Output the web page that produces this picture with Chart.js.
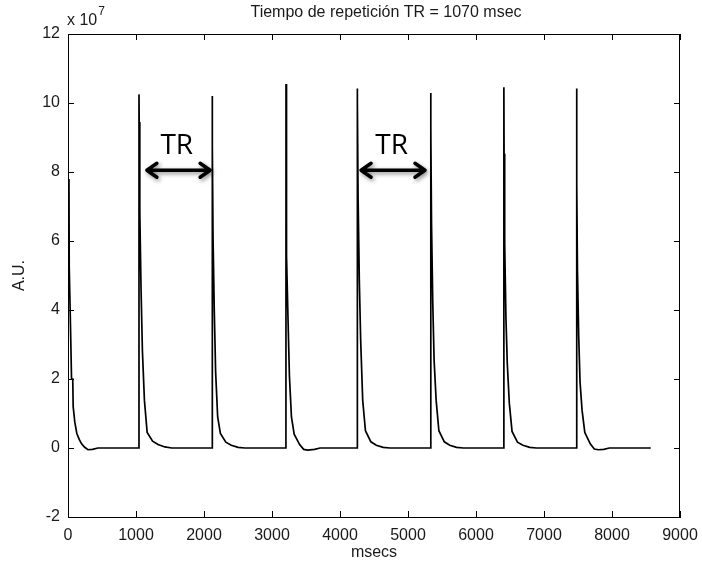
<!DOCTYPE html>
<html>
<head>
<meta charset="utf-8">
<script src="https://cdn.jsdelivr.net/npm/chart.js@4.4.1/dist/chart.umd.min.js"></script>
<style>
  html, body { margin: 0; padding: 0; background: #fff; }
  #wrap { width: 702px; height: 569px; }
</style>
</head>
<body>
<div id="wrap"><canvas id="trChart" width="702" height="569"></canvas></div>
<script>
// signal, time in msecs, amplitude in units of 10^7
var tMs = [
    14, 18, 38, 52, 70, 76, 100, 130, 165, 200, 245, 294, 360, 441,
    1043, 1044, 1047, 1056, 1074, 1094, 1124, 1164, 1244, 1324, 1424, 1524,
    2120, 2121, 2124, 2133, 2151, 2171, 2201, 2241, 2321, 2401, 2501, 2601,
    3205, 3206, 3209, 3218, 3236, 3256, 3286, 3326, 3406, 3466, 3526, 3626, 3706,
    4253, 4254, 4257, 4266, 4284, 4304, 4334, 4374, 4454, 4534, 4634, 4734,
    5333, 5334, 5337, 5346, 5364, 5384, 5414, 5454, 5534, 5614, 5714, 5814,
    6409, 6410, 6413, 6422, 6440, 6460, 6490, 6530, 6610, 6690, 6790, 6890,
    7479, 7480, 7483, 7492, 7510, 7530, 7560, 7600, 7680, 7740, 7800, 7880, 7960, 8570
];
var au = [
    7.8, 5.25, 3.4, 2.0, 2.0, 1.2, 0.75, 0.42, 0.25, 0.12, 0.02, -0.05, -0.04, 0,
    0, 10.25, 9.45, 6.84, 4.62, 2.83, 1.38, 0.45, 0.2, 0.1, 0.03, 0,
    0, 10.2, 8.72, 6.12, 3.99, 2.2, 0.9, 0.42, 0.17, 0.08, 0.02, 0,
    0, 10.55, 8.19, 5.58, 3.7, 2.1, 0.9, 0.4, 0.1, -0.04, -0.06, -0.04, 0,
    0, 10.42, 10.03, 7.28, 4.86, 3.12, 1.38, 0.5, 0.18, 0.08, 0.02, 0,
    0, 10.29, 9.21, 6.51, 4.23, 2.54, 1.38, 0.5, 0.18, 0.08, 0.02, 0,
    0, 10.46, 8.53, 5.92, 3.8, 2.45, 1.3, 0.48, 0.17, 0.08, 0.02, 0,
    0, 10.42, 7.66, 5.15, 3.27, 1.91, 1.09, 0.45, 0.12, -0.03, -0.05, -0.04, 0, 0
];

// axis ticks
var xTicks = [0, 1000, 2000, 3000, 4000, 5000, 6000, 7000, 8000, 9000];
var yTicks = [-2, 0, 2, 4, 6, 8, 10, 12];

// TR arrows (data coords)
var arrowFrom = [1160, 4310];
var arrowTo = [2090, 5250];
var arrowY = 8.05;
var trLabelX = [1600, 4760];
var trLabelY = 8.75;

var titleText = 'Tiempo de repetición TR = 1070 msec';
var mainFont = "'Liberation Sans', Arial, Helvetica, sans-serif";
var textColor = '#1a1a1a';

function drawArrow(ctx, x1, x2, y) {
    var head = 10, half = 7;
    ctx.beginPath();
    ctx.moveTo(x1, y);
    ctx.lineTo(x2, y);
    ctx.moveTo(x1 + head, y - half);
    ctx.lineTo(x1, y);
    ctx.lineTo(x1 + head, y + half);
    ctx.moveTo(x2 - head, y - half);
    ctx.lineTo(x2, y);
    ctx.lineTo(x2 - head, y + half);
    ctx.stroke();
}

var matlabFrame = {
    id: 'matlabFrame',
    afterDraw: function(chart) {
        var ctx = chart.ctx;
        var a = chart.chartArea;
        var x = chart.scales.x, y = chart.scales.y;
        ctx.save();
        // box
        ctx.strokeStyle = '#000';
        ctx.lineWidth = 1;
        ctx.strokeRect(a.left + 0.5, a.top + 0.5, a.right - a.left - 1, a.bottom - a.top);
        // inward ticks on all sides
        var tl = 6;
        ctx.beginPath();
        xTicks.forEach(function(v) {
            var px = Math.round(x.getPixelForValue(v)) + 0.5;
            ctx.moveTo(px, a.bottom); ctx.lineTo(px, a.bottom - tl);
            ctx.moveTo(px, a.top); ctx.lineTo(px, a.top + tl);
        });
        yTicks.forEach(function(v) {
            var py = Math.round(y.getPixelForValue(v)) + 0.5;
            ctx.moveTo(a.left, py); ctx.lineTo(a.left + tl, py);
            ctx.moveTo(a.right, py); ctx.lineTo(a.right - tl, py);
        });
        ctx.stroke();

        // title
        ctx.fillStyle = textColor;
        ctx.font = '16px ' + mainFont;
        ctx.textAlign = 'center';
        ctx.textBaseline = 'middle';
        ctx.fillText(titleText, (a.left + a.right) / 2 + 12, 13);

        // exponent label
        ctx.textAlign = 'left';
        ctx.fillText('x 10', a.left - 1, 21);
        var w = ctx.measureText('x 10').width;
        ctx.font = '12px ' + mainFont;
        ctx.fillText('7', a.left - 1 + w + 1, 12);

        // TR arrows
        ctx.strokeStyle = '#000';
        ctx.lineWidth = 3.5;
        ctx.lineCap = 'round';
        ctx.lineJoin = 'round';
        ctx.shadowColor = 'rgba(0,0,0,0.45)';
        ctx.shadowBlur = 4;
        ctx.shadowOffsetX = 1.5;
        ctx.shadowOffsetY = 2;
        for (var i = 0; i < arrowFrom.length; i++) {
            drawArrow(ctx, x.getPixelForValue(arrowFrom[i]), x.getPixelForValue(arrowTo[i]), y.getPixelForValue(arrowY));
        }
        ctx.shadowColor = 'transparent';
        ctx.fillStyle = '#000';
        ctx.font = "28px 'Open Sans', 'Noto Sans', sans-serif";
        ctx.textAlign = 'center';
        ctx.textBaseline = 'middle';
        for (var j = 0; j < trLabelX.length; j++) {
            ctx.fillText('TR', x.getPixelForValue(trLabelX[j]), y.getPixelForValue(trLabelY));
        }
        ctx.restore();
    }
};

var points = tMs.map(function(t, i) { return {x: t, y: au[i]}; });

var chart = new Chart(document.getElementById('trChart').getContext('2d'), {
    type: 'line',
    data: {
        datasets: [{
            label: 'señal',
            data: points,
            borderColor: '#000',
            borderWidth: 1.7,
            pointRadius: 0,
            tension: 0,
            fill: false
        }]
    },
    options: {
        responsive: false,
        animation: false,
        layout: { padding: { left: 0, right: 22, top: 34, bottom: 0 } },
        plugins: {
            legend: { display: false },
            tooltip: { enabled: false },
            title: { display: false }
        },
        scales: {
            x: {
                type: 'linear',
                min: 0,
                max: 9000,
                afterFit: function(s) { s.height = 52; s.paddingLeft = 0; s.paddingRight = 0; },
                afterBuildTicks: function(s) { s.ticks = xTicks.map(function(v) { return {value: v}; }); },
                grid: { display: true, drawOnChartArea: false, drawTicks: false },
                border: { display: true, color: '#000', width: 1 },
                ticks: { color: textColor, padding: 9, maxRotation: 0, autoSkip: false,
                         callback: function(v) { return String(v); },
                         font: { family: mainFont, size: 16 } },
                title: { display: true, text: 'msecs', color: textColor,
                         font: { family: mainFont, size: 16 }, padding: { top: 0, bottom: 7 } }
            },
            y: {
                type: 'linear',
                min: -2,
                max: 12,
                afterFit: function(s) { s.width = 68; s.paddingTop = 0; s.paddingBottom = 0; },
                afterBuildTicks: function(s) { s.ticks = yTicks.map(function(v) { return {value: v}; }); },
                grid: { display: true, drawOnChartArea: false, drawTicks: false },
                border: { display: true, color: '#000', width: 1 },
                ticks: { color: textColor, padding: 8, autoSkip: false,
                         callback: function(v) { return String(v); },
                         font: { family: mainFont, size: 16 } },
                title: { display: true, text: 'A.U.', color: textColor,
                         font: { family: mainFont, size: 16 }, padding: { top: 10, bottom: 0 } }
            }
        }
    },
    plugins: [matlabFrame]
});
</script>
</body>
</html>
